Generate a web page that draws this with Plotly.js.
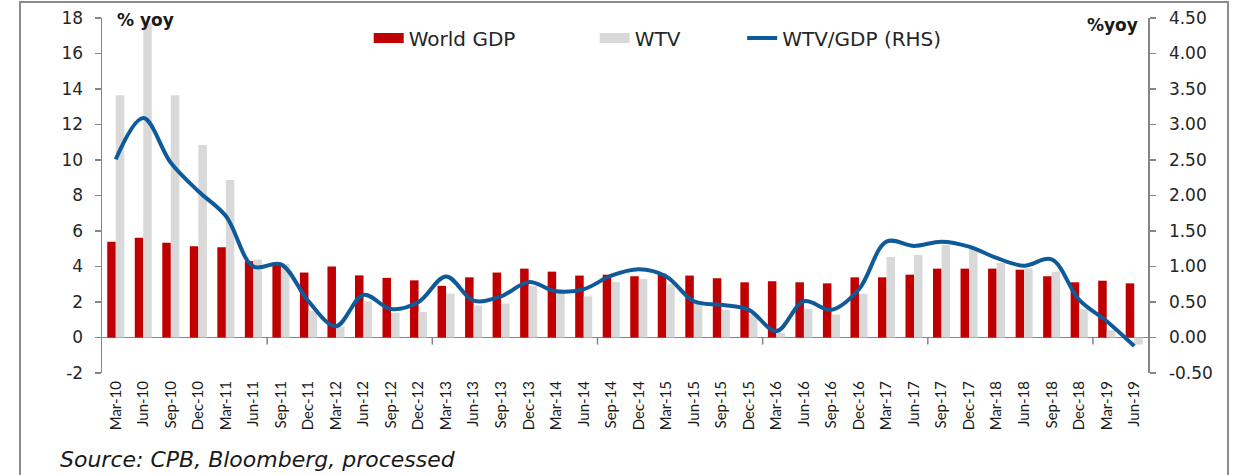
<!DOCTYPE html>
<html>
<head>
<meta charset="utf-8">
<script src="https://cdn.plot.ly/plotly-3.0.1.min.js"></script>
<style>
  html, body { margin: 0; padding: 0; background: #fff; }
  #chart { width: 1247px; height: 475px; }
</style>
</head>
<body>
<div id="chart"></div>
<script>
"use strict";

// quarters
var quarters = [
  "Mar-10","Jun-10","Sep-10","Dec-10",
  "Mar-11","Jun-11","Sep-11","Dec-11",
  "Mar-12","Jun-12","Sep-12","Dec-12",
  "Mar-13","Jun-13","Sep-13","Dec-13",
  "Mar-14","Jun-14","Sep-14","Dec-14",
  "Mar-15","Jun-15","Sep-15","Dec-15",
  "Mar-16","Jun-16","Sep-16","Dec-16",
  "Mar-17","Jun-17","Sep-17","Dec-17",
  "Mar-18","Jun-18","Sep-18","Dec-18",
  "Mar-19","Jun-19"
];

// world GDP, % yoy (left axis)
var gdp = [
  5.40, 5.62, 5.34, 5.14,
  5.08, 4.30, 4.15, 3.66,
  4.00, 3.50, 3.36, 3.22,
  2.91, 3.39, 3.66, 3.88,
  3.71, 3.49, 3.54, 3.45,
  3.60, 3.49, 3.34, 3.11,
  3.17, 3.11, 3.05, 3.39,
  3.39, 3.54, 3.88, 3.88,
  3.88, 3.82, 3.45, 3.11,
  3.20, 3.05
];

// world trade volume, % yoy (left axis)
var wtv = [
  13.65, 17.70, 13.65, 10.84,
  8.87, 4.39, 4.14, 1.50,
  0.60, 2.04, 1.39, 1.44,
  2.47, 1.80, 1.91, 2.90,
  2.50, 2.32, 3.13, 3.30,
  3.00, 1.90, 1.57, 1.29,
  0.26, 1.61, 1.29, 2.47,
  4.54, 4.65, 5.23, 5.00,
  4.20, 3.90, 3.71, 1.60,
  0.40, -0.40
];

// ratio WTV/GDP (right axis)
var ratio = [
  2.51, 3.09, 2.46, 2.06,
  1.71, 1.00, 1.03, 0.51,
  0.16, 0.60, 0.40, 0.50,
  0.86, 0.52, 0.58, 0.78,
  0.65, 0.68, 0.87, 0.96,
  0.86, 0.51, 0.46, 0.39,
  0.09, 0.51, 0.39, 0.68,
  1.35, 1.29, 1.35, 1.28,
  1.12, 1.01, 1.10, 0.53,
  0.23, -0.12
];

var leftTicks = [-2, 0, 2, 4, 6, 8, 10, 12, 14, 16, 18];
var rightTicks = [-0.5, 0, 0.5, 1, 1.5, 2, 2.5, 3, 3.5, 4, 4.5];

var numFont = "DejaVu Sans, Verdana, sans-serif";
var axisGrey = "#868686";
var red = "#c00000";
var grey = "#d9d9d9";
var blue = "#0f5a99";

var traces = [
  {
    x: quarters, y: gdp, name: "World GDP", type: "bar",
    marker: {color: red}, showlegend: false, yaxis: "y"
  },
  {
    x: quarters, y: wtv, name: "WTV", type: "bar",
    marker: {color: grey}, showlegend: false, yaxis: "y"
  },
  {
    x: quarters, y: ratio, name: "WTV/GDP (RHS)", type: "scatter", mode: "lines",
    line: {color: blue, width: 4, shape: "spline", smoothing: 1},
    legend: "legend3", yaxis: "y2"
  },
  // wide flat swatches for the two bar series, like the Excel legend
  {
    x: [null], y: [null], name: "World GDP", type: "scatter", mode: "lines",
    line: {color: red, width: 10}, legend: "legend", hoverinfo: "skip"
  },
  {
    x: [null], y: [null], name: "WTV", type: "scatter", mode: "lines",
    line: {color: grey, width: 10}, legend: "legend2", hoverinfo: "skip"
  }
];

// little ticks hanging under the zero line every six quarters
var shapes = [];
for (var b = 6; b < quarters.length; b += 6) {
  shapes.push({
    type: "line", xref: "x", yref: "y",
    x0: b - 0.5, x1: b - 0.5, y0: 0, y1: -0.4,
    line: {color: axisGrey, width: 1.5}
  });
}
// outer frame of the chart
shapes.push({
  type: "rect", xref: "paper", yref: "paper",
  x0: -0.0784, x1: 1.0765, y0: -0.31, y1: 1.045,
  line: {color: "#8c8c8c", width: 2}, fillcolor: "rgba(0,0,0,0)", layer: "below"
});

var legendBase = {
  orientation: "h", yanchor: "middle", xanchor: "left", y: 0.944,
  bgcolor: "rgba(0,0,0,0)", borderwidth: 0,
  font: {family: numFont, size: 20, color: "#262626"}
};

var layout = {
  width: 1247, height: 475,
  margin: {l: 102, r: 99, t: 18, b: 102},
  paper_bgcolor: "#fff", plot_bgcolor: "rgba(0,0,0,0)",
  barmode: "group", bargap: 0.38, bargroupgap: 0,
  showlegend: true,
  legend: Object.assign({}, legendBase, {x: 0.255}),
  legend2: Object.assign({}, legendBase, {x: 0.471}),
  legend3: Object.assign({}, legendBase, {x: 0.612}),
  xaxis: {
    type: "category", range: [-0.5, quarters.length - 0.5],
    showline: false, showgrid: false, zeroline: false, ticks: "",
    tickangle: -90, tickfont: {family: "Lato, Open Sans, sans-serif", size: 15, color: "#1a1a1a"},
    ticklabelstandoff: 4
  },
  yaxis: {
    range: [-2, 18], tickvals: leftTicks, ticktext: leftTicks.map(String),
    showline: true, linecolor: axisGrey, linewidth: 1.5,
    ticks: "outside", ticklen: 6, tickcolor: axisGrey, tickwidth: 1.5,
    showgrid: false, zeroline: true, zerolinecolor: axisGrey, zerolinewidth: 1.5,
    tickfont: {family: numFont, size: 17, color: "#262626"},
    ticklabelstandoff: 8
  },
  yaxis2: {
    overlaying: "y", side: "right", anchor: "x",
    range: [-0.5, 4.5], tickvals: rightTicks, ticktext: rightTicks.map(function(v){ return v.toFixed(2); }),
    showline: true, linecolor: axisGrey, linewidth: 1.5,
    ticks: "outside", ticklen: 6, tickcolor: axisGrey, tickwidth: 1.5,
    showgrid: false, zeroline: false,
    tickfont: {family: numFont, size: 17, color: "#262626"},
    ticklabelstandoff: 10
  },
  shapes: shapes,
  annotations: [
    {
      text: "<b>% yoy</b>", xref: "paper", yref: "paper", x: 0.0124, y: 0.994,
      xanchor: "left", yanchor: "middle", showarrow: false,
      font: {family: numFont, size: 17, color: "#1a1a1a"}
    },
    {
      text: "<b>%yoy</b>", xref: "paper", yref: "paper", x: 0.992, y: 0.98,
      xanchor: "right", yanchor: "middle", showarrow: false,
      font: {family: numFont, size: 17, color: "#1a1a1a"}
    },
    {
      text: "<i>Source: CPB, Bloomberg, processed</i>", xref: "paper", yref: "paper",
      x: -0.042, y: -0.245, xanchor: "left", yanchor: "middle", showarrow: false,
      font: {family: numFont, size: 22, color: "#1a1a1a"}
    }
  ]
};

Plotly.newPlot("chart", traces, layout, {displayModeBar: false, staticPlot: true});
</script>
</body>
</html>
